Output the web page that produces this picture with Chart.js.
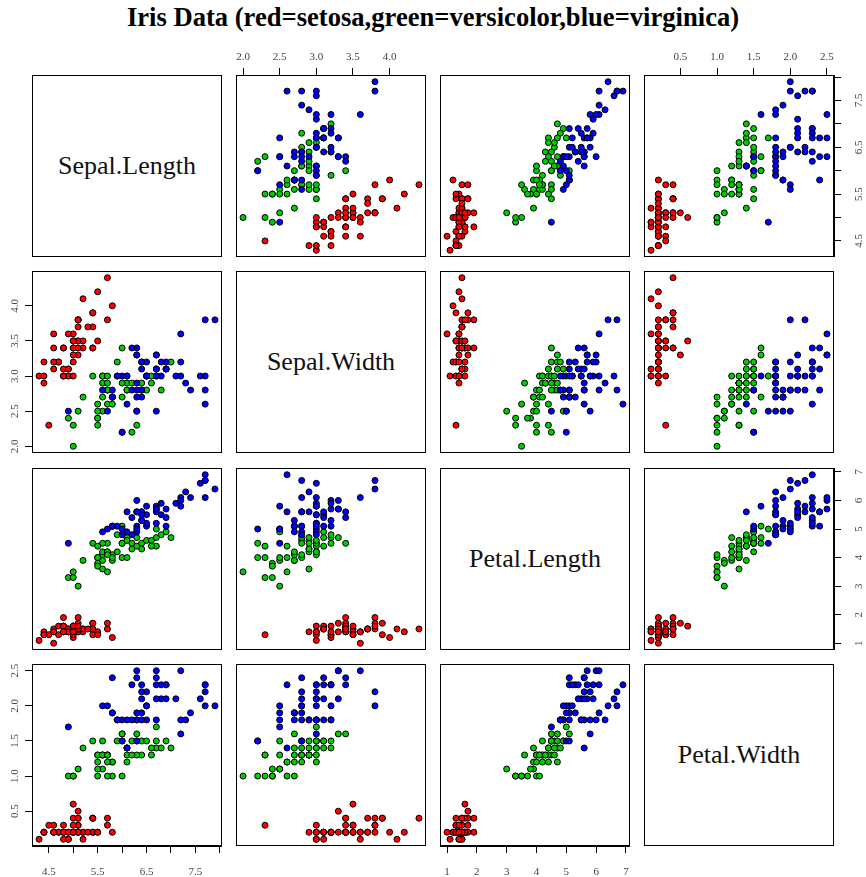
<!DOCTYPE html>
<html>
<head>
<meta charset="utf-8">
<script src="https://cdn.jsdelivr.net/npm/chart.js@4.4.1/dist/chart.umd.min.js"></script>
<style>
  html, body { margin: 0; padding: 0; background: #fff; overflow: hidden; }
  body { width: 866px; height: 877px; position: relative; font-family: "Liberation Serif", serif; }
  #title { position: absolute; left: 0; top: 4px; width: 866px; text-align: center;
           font-weight: bold; font-size: 26.6px; line-height: 26px; color: #000; }
  .panel { position: absolute; }
  .diag { position: absolute; box-sizing: border-box; border: 1px solid #000; display: flex;
          align-items: center; justify-content: center; font-size: 26px; color: #111; }
</style>
</head>
<body>
<div id="title">Iris Data (red=setosa,green=versicolor,blue=virginica)</div>
<script>
// iris measurements, rows 1-50 setosa, 51-100 versicolor, 101-150 virginica
const sepalLength = [
  5.1,4.9,4.7,4.6,5.0,5.4,4.6,5.0,4.4,4.9, 5.4,4.8,4.8,4.3,5.8,5.7,5.4,5.1,5.7,5.1,
  5.4,5.1,4.6,5.1,4.8,5.0,5.0,5.2,5.2,4.7, 4.8,5.4,5.2,5.5,4.9,5.0,5.5,4.9,4.4,5.1,
  5.0,4.5,4.4,5.0,5.1,4.8,5.1,4.6,5.3,5.0,
  7.0,6.4,6.9,5.5,6.5,5.7,6.3,4.9,6.6,5.2, 5.0,5.9,6.0,6.1,5.6,6.7,5.6,5.8,6.2,5.6,
  5.9,6.1,6.3,6.1,6.4,6.6,6.8,6.7,6.0,5.7, 5.5,5.5,5.8,6.0,5.4,6.0,6.7,6.3,5.6,5.5,
  5.5,6.1,5.8,5.0,5.6,5.7,5.7,6.2,5.1,5.7,
  6.3,5.8,7.1,6.3,6.5,7.6,4.9,7.3,6.7,7.2, 6.5,6.4,6.8,5.7,5.8,6.4,6.5,7.7,7.7,6.0,
  6.9,5.6,7.7,6.3,6.7,7.2,6.2,6.1,6.4,7.2, 7.4,7.9,6.4,6.3,6.1,7.7,6.3,6.4,6.0,6.9,
  6.7,6.9,5.8,6.8,6.7,6.7,6.3,6.5,6.2,5.9
];
const sepalWidth = [
  3.5,3.0,3.2,3.1,3.6,3.9,3.4,3.4,2.9,3.1, 3.7,3.4,3.0,3.0,4.0,4.4,3.9,3.5,3.8,3.8,
  3.4,3.7,3.6,3.3,3.4,3.0,3.4,3.5,3.4,3.2, 3.1,3.4,4.1,4.2,3.1,3.2,3.5,3.6,3.0,3.4,
  3.5,2.3,3.2,3.5,3.8,3.0,3.8,3.2,3.7,3.3,
  3.2,3.2,3.1,2.3,2.8,2.8,3.3,2.4,2.9,2.7, 2.0,3.0,2.2,2.9,2.9,3.1,3.0,2.7,2.2,2.5,
  3.2,2.8,2.5,2.8,2.9,3.0,2.8,3.0,2.9,2.6, 2.4,2.4,2.7,2.7,3.0,3.4,3.1,2.3,3.0,2.5,
  2.6,3.0,2.6,2.3,2.7,3.0,2.9,2.9,2.5,2.8,
  3.3,2.7,3.0,2.9,3.0,3.0,2.5,2.9,2.5,3.6, 3.2,2.7,3.0,2.5,2.8,3.2,3.0,3.8,2.6,2.2,
  3.2,2.8,2.8,2.7,3.3,3.2,2.8,3.0,2.8,3.0, 2.8,3.8,2.8,2.8,2.6,3.0,3.4,3.1,3.0,3.1,
  3.1,3.1,2.7,3.2,3.3,3.0,2.5,3.0,3.4,3.0
];
const petalLength = [
  1.4,1.4,1.3,1.5,1.4,1.7,1.4,1.5,1.4,1.5, 1.5,1.6,1.4,1.1,1.2,1.5,1.3,1.4,1.7,1.5,
  1.7,1.5,1.0,1.7,1.9,1.6,1.6,1.5,1.4,1.6, 1.6,1.5,1.5,1.4,1.5,1.2,1.3,1.4,1.3,1.5,
  1.3,1.3,1.3,1.6,1.9,1.4,1.6,1.4,1.5,1.4,
  4.7,4.5,4.9,4.0,4.6,4.5,4.7,3.3,4.6,3.9, 3.5,4.2,4.0,4.7,3.6,4.4,4.5,4.1,4.5,3.9,
  4.8,4.0,4.9,4.7,4.3,4.4,4.8,5.0,4.5,3.5, 3.8,3.7,3.9,5.1,4.5,4.5,4.7,4.4,4.1,4.0,
  4.4,4.6,4.0,3.3,4.2,4.2,4.2,4.3,3.0,4.1,
  6.0,5.1,5.9,5.6,5.8,6.6,4.5,6.3,5.8,6.1, 5.1,5.3,5.5,5.0,5.1,5.3,5.5,6.7,6.9,5.0,
  5.7,4.9,6.7,4.9,5.7,6.0,4.8,4.9,5.6,5.8, 6.1,6.4,5.6,5.1,5.6,6.1,5.6,5.5,4.8,5.4,
  5.6,5.1,5.1,5.9,5.7,5.2,5.0,5.2,5.4,5.1
];
const petalWidth = [
  0.2,0.2,0.2,0.2,0.2,0.4,0.3,0.2,0.2,0.1, 0.2,0.2,0.1,0.1,0.2,0.4,0.4,0.3,0.3,0.3,
  0.2,0.4,0.2,0.5,0.2,0.2,0.4,0.2,0.2,0.2, 0.2,0.4,0.1,0.2,0.2,0.2,0.2,0.1,0.2,0.2,
  0.3,0.3,0.2,0.6,0.4,0.3,0.2,0.2,0.2,0.2,
  1.4,1.5,1.5,1.3,1.5,1.3,1.6,1.0,1.3,1.4, 1.0,1.5,1.0,1.4,1.3,1.4,1.5,1.0,1.5,1.1,
  1.8,1.3,1.5,1.2,1.3,1.4,1.4,1.7,1.5,1.0, 1.1,1.0,1.2,1.6,1.5,1.6,1.5,1.3,1.3,1.3,
  1.2,1.4,1.2,1.0,1.3,1.2,1.3,1.3,1.1,1.3,
  2.5,1.9,2.1,1.8,2.2,2.1,1.7,1.8,1.8,2.5, 2.0,1.9,2.1,2.0,2.4,2.3,1.8,2.2,2.3,1.5,
  2.3,2.0,2.0,1.8,2.1,1.8,1.8,1.8,2.1,1.6, 1.9,2.0,2.2,1.5,1.4,2.3,2.4,1.8,1.8,2.1,
  2.4,2.3,1.9,2.3,2.5,2.3,1.9,2.0,2.3,1.8
];

const speciesNames = ['setosa', 'versicolor', 'virginica'];
const speciesCounts = [50, 50, 50];
const speciesColors = ['#FF0000', '#00CD00', '#0000FF'];

const varNames = ['Sepal.Length', 'Sepal.Width', 'Petal.Length', 'Petal.Width'];
const tickValues = [
  [4.5, 5, 5.5, 6, 6.5, 7, 7.5, 8],
  [2, 2.5, 3, 3.5, 4],
  [1, 2, 3, 4, 5, 6, 7],
  [0.5, 1, 1.5, 2, 2.5]
];
const tickLabels = [
  ['4.5', '', '5.5', '', '6.5', '', '7.5', ''],
  ['2.0', '2.5', '3.0', '3.5', '4.0'],
  ['1', '2', '3', '4', '5', '6', '7'],
  ['0.5', '1.0', '1.5', '2.0', '2.5']
];

const vars = [sepalLength, sepalWidth, petalLength, petalWidth];

// layout of the 4x4 grid (plot boxes)
const boxLeft = [32, 236, 440, 644];
const boxTop = [75, 271, 468, 664];
const boxW = 190, boxH = 182;
const tickFont = { family: 'Liberation Serif', size: 11 };
const tickColor = '#444';

// R style axis limits: data range stretched by 4%
const ranges = vars.map(a => {
  const lo = Math.min(...a), hi = Math.max(...a), d = (hi - lo) * 0.04;
  return [lo - d, hi + d];
});

const boxPlugin = {
  id: 'box',
  beforeDatasetsDraw(chart) {
    const a = chart.chartArea, ctx = chart.ctx;
    ctx.save();
    ctx.strokeStyle = '#000';
    ctx.lineWidth = 1;
    ctx.strokeRect(Math.round(a.left) + 0.5, Math.round(a.top) + 0.5,
                   Math.round(a.right - a.left) - 1, Math.round(a.bottom - a.top) - 1);
    ctx.restore();
  }
};

// y tick labels are rotated like in R, so draw them here from the scale
const yLabelPlugin = {
  id: 'ylab',
  afterDraw(chart, args, opts) {
    const s = chart.scales.y;
    if (!s.options.display) return;
    const ctx = chart.ctx;
    ctx.save();
    ctx.font = tickFont.size + 'px "' + tickFont.family + '"';
    ctx.fillStyle = tickColor;
    ctx.textAlign = 'center';
    ctx.textBaseline = 'middle';
    const px = s.position === 'left' ? chart.chartArea.left - 16.5 : chart.chartArea.right + 25;
    opts.values.forEach((v, k) => {
      if (!opts.labels[k]) return;
      const py = s.getPixelForValue(v);
      ctx.save();
      ctx.translate(px, py);
      ctx.rotate(-Math.PI / 2);
      ctx.fillText(opts.labels[k], 0, 0);
      ctx.restore();
    });
    ctx.restore();
  }
};

function axis(vi, pos, isX) {
  const size = pos === 'top' ? 28 : pos === 'bottom' ? 32 : 36;
  return {
    type: 'linear',
    position: pos || (isX ? 'bottom' : 'left'),
    display: !!pos,
    min: ranges[vi][0],
    max: ranges[vi][1],
    afterBuildTicks: s => { s.ticks = tickValues[vi].map(v => ({ value: v })); },
    afterFit: s => {
      if (pos) { if (isX) s.height = size; else s.width = size; }
      s.paddingLeft = s.paddingRight = s.paddingTop = s.paddingBottom = 0;
    },
    grid: { drawOnChartArea: false, drawTicks: true, tickLength: 7, color: '#000', tickColor: '#000', lineWidth: 1 },
    border: { display: true, color: '#000', width: 1 },
    ticks: {
      display: isX,
      autoSkip: false,
      maxRotation: 0,
      minRotation: 0,
      font: tickFont,
      color: tickColor,
      padding: pos === 'top' ? 3.9 : 12.4,
      callback: (v, k) => tickLabels[vi][k]
    }
  };
}

for (let i = 0; i < 4; i++) {
  for (let j = 0; j < 4; j++) {
    if (i === j) {
      const d = document.createElement('div');
      d.className = 'diag';
      d.style.left = boxLeft[j] + 'px';
      d.style.top = boxTop[i] + 'px';
      d.style.width = boxW + 'px';
      d.style.height = boxH + 'px';
      d.textContent = varNames[i];
      document.body.appendChild(d);
      continue;
    }
    const xPos = (i === 0 && j % 2 === 1) ? 'top' : (i === 3 && j % 2 === 0) ? 'bottom' : null;
    const yPos = (j === 0 && i % 2 === 1) ? 'left' : (j === 3 && i % 2 === 0) ? 'right' : null;
    const padL = yPos === 'left' ? 36 : 0, padR = yPos === 'right' ? 36 : 0;
    const padT = xPos === 'top' ? 28 : 0, padB = xPos === 'bottom' ? 32 : 0;

    const cv = document.createElement('canvas');
    cv.className = 'panel';
    cv.width = boxW + padL + padR;
    cv.height = boxH + padT + padB;
    cv.style.left = (boxLeft[j] - padL) + 'px';
    cv.style.top = (boxTop[i] - padT) + 'px';
    document.body.appendChild(cv);

    let start = 0;
    const datasets = speciesNames.map((sp, k) => {
      const pts = [];
      for (let n = start; n < start + speciesCounts[k]; n++) {
        pts.push({ x: vars[j][n], y: vars[i][n] });
      }
      start += speciesCounts[k];
      return {
        label: sp,
        data: pts,
        backgroundColor: speciesColors[k],
        borderColor: '#000',
        borderWidth: 1,
        pointRadius: 3,
        pointHoverRadius: 3,
        order: speciesNames.length - k
      };
    });

    new Chart(cv, {
      type: 'scatter',
      data: { datasets },
      options: {
        responsive: false,
        animation: false,
        events: [],
        layout: { padding: 0, autoPadding: false },
        plugins: {
          legend: { display: false },
          tooltip: { enabled: false },
          ylab: { values: tickValues[i], labels: tickLabels[i] }
        },
        scales: {
          x: axis(j, xPos, true),
          y: axis(i, yPos, false)
        }
      },
      plugins: [boxPlugin, yLabelPlugin]
    });
  }
}
</script>
</body>
</html>
